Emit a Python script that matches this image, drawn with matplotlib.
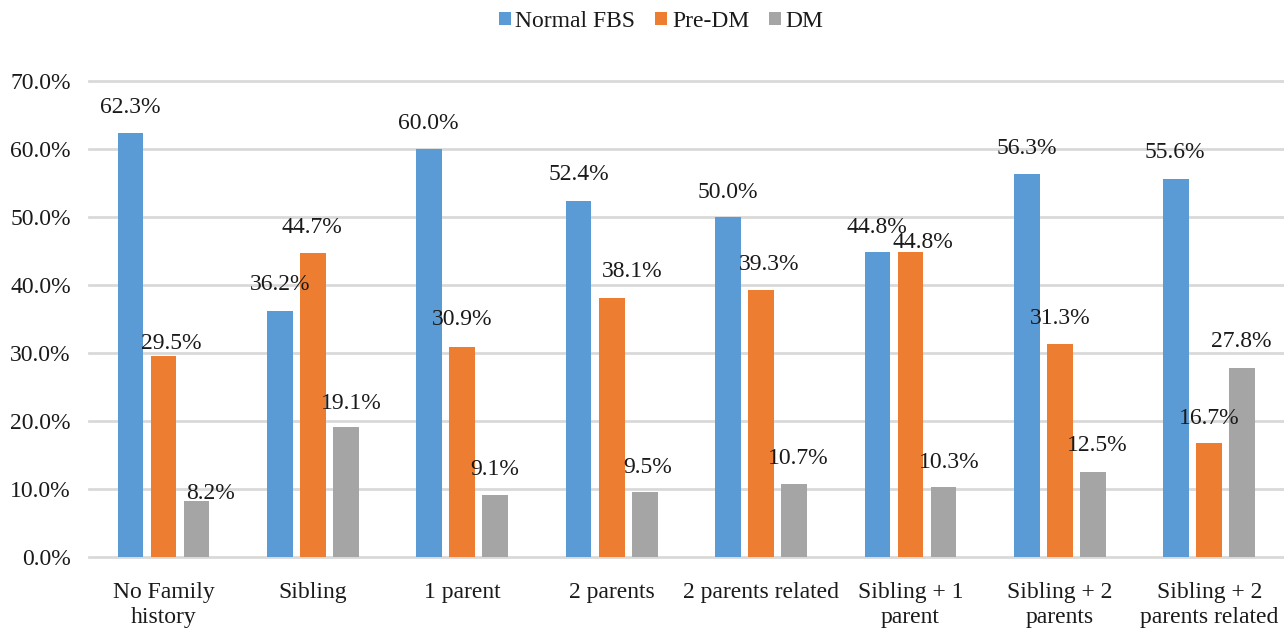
import matplotlib
matplotlib.use("Agg")
import matplotlib.pyplot as plt
from matplotlib.patches import Patch
import numpy as np

plt.rcParams['font.family'] = ['Liberation Serif', 'DejaVu Serif']

categories = ["No Family\nhistory", "Sibling", "1 parent", "2 parents",
              "2 parents related", "Sibling + 1\nparent", "Sibling + 2\nparents",
              "Sibling + 2\nparents related"]
series_names = ["Normal FBS", "Pre-DM", "DM"]
normal_fbs = [62.3, 36.2, 60.0, 52.4, 50.0, 44.8, 56.3, 55.6]
pre_dm = [29.5, 44.7, 30.9, 38.1, 39.3, 44.8, 31.3, 16.7]
dm = [8.2, 19.1, 9.1, 9.5, 10.7, 10.3, 12.5, 27.8]
y_ticks = [0, 10, 20, 30, 40, 50, 60, 70]

colors = ["#5B9BD5", "#ED7D31", "#A5A5A5"]
text_color = "#1A1A1A"

# hand-placed label nudges (pixels): horizontal shift and height above bar top
label_dx = [
    [0, 0, -1, 0, 0, -1, 0, -1],
    [8, -1, 0, 21, 8, 12, 0, 0],
    [14, 5, -1, 3, 4, 6, 4, -1],
]
label_dy = [
    [26, 26, 26, 26, 25, 25, 26, 26],
    [13, 26, 27, 26, 25, 10, 26, 25],
    [8, 24, 26, 25, 26, 24, 26, 26],
]

fig = plt.figure(figsize=(12.84, 6.31), dpi=100)
ax = fig.add_axes([0.0691, 0.1173, 0.9309, 0.7543])

x = np.arange(len(categories))
width = 0.172
step = 0.221
fs = 17

for i, (vals, name, col) in enumerate(zip([normal_fbs, pre_dm, dm], series_names, colors)):
    pos = x + (i - 1) * step
    ax.bar(pos, vals, width=width, color=col, zorder=3, label=name)
    for j, (p, v) in enumerate(zip(pos, vals)):
        ax.annotate(f"{v:.1f}%", xy=(p, v), xytext=(label_dx[i][j], label_dy[i][j]),
                    textcoords="offset pixels", ha="center", va="center",
                    fontsize=fs, color=text_color, zorder=4)

ax.set_xlim(-0.5, len(categories) - 0.5)
ax.set_ylim(0, 70)
ax.set_yticks(y_ticks)
ax.set_yticklabels([f"{t:.1f}%" for t in y_ticks], fontsize=fs, color=text_color)
ax.set_xticks(x)
ax.set_xticklabels(categories, fontsize=fs, color=text_color, linespacing=1.25)
ax.tick_params(axis="both", length=0)
ax.tick_params(axis="y", pad=13)
ax.tick_params(axis="x", pad=18)

ax.grid(axis="y", color="#D9D9D9", linewidth=2, zorder=0)
for s in ax.spines.values():
    s.set_visible(False)
for gl in ax.get_ygridlines():
    gl.set_clip_on(False)

handles = [Patch(facecolor=c, edgecolor="none") for c in colors]
fig.legend(handles, series_names, loc="center", bbox_to_anchor=(0.515, 0.966),
           ncol=3, frameon=False, fontsize=fs, handlelength=0.5, handleheight=0.5,
           handletextpad=0.2, columnspacing=0.85, labelcolor=text_color)

fig.savefig("out.png", dpi=100)
